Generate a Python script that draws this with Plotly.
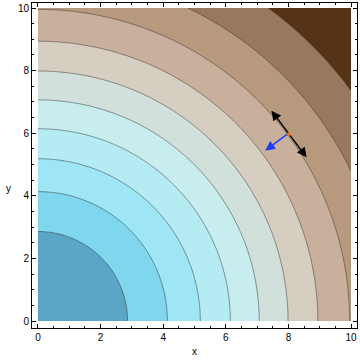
import numpy as np
import plotly.graph_objects as go

# contour function: f(x, y) = exp(-(x^2 + y^2) / 100) on [0,10]^2
z_min_val = float(np.exp(-2.0))
z_max_val = 1.0
n_levels = 10
level_step = (z_max_val - z_min_val) / (n_levels + 1)
levels = [z_min_val + k * level_step for k in range(1, n_levels + 1)]

# band colours from lowest value (outer corner) to highest (origin)
band_colors = ["#563317", "#99795E", "#B7997E", "#C9B09C", "#D7CEC2",
               "#D2E0DC", "#C7EDEF", "#B5ECF3", "#9EE6F5", "#7FD6ED", "#5BA6C7"]

point = (8.0, 6.0)
grad_vec = (-0.74, -0.555)
tangent_vec = (0.58, -0.77)

xs = np.linspace(0, 10, 301)
ys = np.linspace(0, 10, 301)
X, Y = np.meshgrid(xs, ys)
Z = np.exp(-(X**2 + Y**2) / 100.0)

bounds = [z_min_val] + levels + [z_max_val]
colorscale = []
for i, c in enumerate(band_colors):
    a = (bounds[i] - z_min_val) / (z_max_val - z_min_val)
    b = (bounds[i + 1] - z_min_val) / (z_max_val - z_min_val)
    colorscale.append([a, c])
    colorscale.append([b, c])

fig = go.Figure()
fig.add_trace(go.Contour(
    x=xs, y=ys, z=Z,
    zmin=z_min_val, zmax=z_max_val,
    colorscale=colorscale, showscale=False,
    contours=dict(start=levels[0], end=levels[-1], size=level_step, coloring="fill"),
    line=dict(color="rgba(40,40,40,0.6)", width=0.8),
    hoverinfo="skip",
))

# tangent double-headed arrow
fig.add_annotation(
    x=point[0] + tangent_vec[0], y=point[1] + tangent_vec[1],
    ax=point[0] - tangent_vec[0], ay=point[1] - tangent_vec[1],
    xref="x", yref="y", axref="x", ayref="y",
    showarrow=True, arrowhead=2, startarrowhead=2, arrowside="end+start",
    arrowsize=1.3, startarrowsize=1.3, arrowwidth=1.5, arrowcolor="black", text="",
)
# gradient arrow
fig.add_annotation(
    x=point[0] + grad_vec[0], y=point[1] + grad_vec[1],
    ax=point[0], ay=point[1],
    xref="x", yref="y", axref="x", ayref="y",
    showarrow=True, arrowhead=2, arrowsize=1.3, arrowwidth=1.5,
    arrowcolor="#1E3CFF", text="",
)
# the point, drawn on top of the arrows
fig.add_annotation(
    x=point[0], y=point[1], xref="x", yref="y", text="●", showarrow=False,
    font=dict(size=9, color="#E07020"), xanchor="center", yanchor="middle",
)

axis_common = dict(
    showgrid=False, zeroline=False, showline=True, linecolor="black", linewidth=1,
    mirror="ticks", ticks="inside", ticklen=4, tickwidth=0.8, tickcolor="black",
    tickmode="array", tickvals=[0, 2, 4, 6, 8, 10],
    tickfont=dict(family="Liberation Sans", size=10, color="black"),
    minor=dict(ticks="inside", ticklen=2, tickwidth=0.6, tickcolor="black", dtick=0.5, showgrid=False),
)
fig.update_xaxes(range=[-0.19, 10.19], **axis_common)
fig.update_yaxes(range=[-0.22, 10.16], **axis_common)

fig.add_annotation(x=0.5, y=-0.095, xref="paper", yref="paper", text="x", showarrow=False,
                   font=dict(family="Liberation Sans", size=10, color="black"))
fig.add_annotation(x=-0.085, y=0.43, xref="paper", yref="paper", text="y", showarrow=False,
                   font=dict(family="Liberation Sans", size=10, color="black"))

fig.update_layout(
    width=360, height=362,
    margin=dict(l=32, r=3, t=3, b=34),
    paper_bgcolor="white", plot_bgcolor="white",
    showlegend=False,
)
fig.write_html("out.html")
